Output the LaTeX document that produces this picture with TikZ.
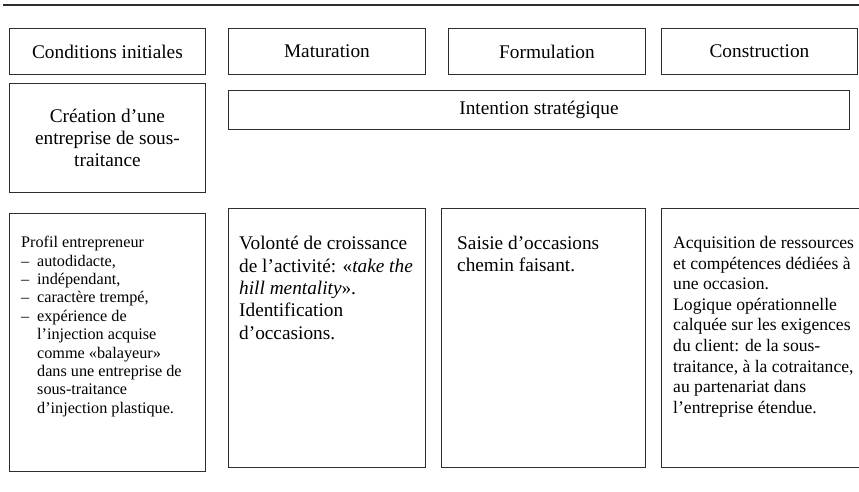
\documentclass[tikz,border=0pt]{standalone}
\usepackage{fontspec}
\setmainfont{Liberation Serif}
\usepackage{tikz}
\definecolor{framecolor}{RGB}{45,45,45}
\newcommand{\itemdash}{\makebox[16pt][l]{–}}
\newcommand{\itemgap}{\hspace*{16pt}}

\begin{document}
\begin{tikzpicture}[x=1pt, y=-1pt,
    phase/.style={draw=framecolor, line width=0.9pt, inner sep=0pt, anchor=north west, align=center, font=\fontsize{19.3}{22.4}\selectfont},
    cell/.style={draw=framecolor, line width=0.9pt, inner sep=0pt, anchor=north west},
    cellbig/.style={inner sep=0pt, anchor=north west, align=left, font=\fontsize{19.3}{22.4}\selectfont},
    cellmid/.style={inner sep=0pt, anchor=north west, align=left, font=\fontsize{17.6}{20.6}\selectfont},
    cellsmall/.style={inner sep=0pt, anchor=north west, align=left, font=\fontsize{16.2}{18.4}\selectfont}]
    \useasboundingbox (0,0) rectangle (859,491);

    % Top rule
    \draw[framecolor, line width=2.5pt] (3,5) -- (859,5);

    % Phases
    \node[phase, minimum width=196pt, minimum height=46pt] (cond) at (9,28) {Conditions initiales};
    \node[phase, minimum width=197pt, minimum height=46pt] (matur) at (228,28) {Maturation};
    \node[phase, minimum width=197pt, minimum height=46pt] (formul) at (448,28) {Formulation};
    \node[phase, minimum width=196pt, minimum height=46pt] (constr) at (661,28) {Construction};

    % Second row
    \node[phase, minimum width=196pt, minimum height=109pt] (creation) at (9,83) {Création d’une\\entreprise de sous-\\traitance};
    \node[phase, minimum width=621pt, minimum height=39pt] (intention) at (228,90) {Intention stratégique};

    % Description boxes
    \node[cell, minimum width=196pt, minimum height=258pt] (profilbox) at (9,213) {};
    \node[cell, minimum width=197pt, minimum height=259pt] (volontebox) at (228,208) {};
    \node[cell, minimum width=204pt, minimum height=259pt] (saisiebox) at (441,208) {};
    \node[cell, minimum width=210pt, minimum height=259pt] (acquisbox) at (661,208) {};

    % Description texts
    \node[cellsmall] (profil) at (21,236) {Profil entrepreneur\\
        \itemdash autodidacte,\\
        \itemdash indépendant,\\
        \itemdash caractère trempé,\\
        \itemdash expérience de\\
        \itemgap l’injection acquise\\
        \itemgap comme «balayeur»\\
        \itemgap dans une entreprise de\\
        \itemgap sous-traitance\\
        \itemgap d’injection plastique.};
    \node[cellbig] (volonte) at (239,236) {Volonté de croissance\\
        de l’activité: «\textit{take the}\\
        \textit{hill mentality}».\\
        Identification\\
        d’occasions.};
    \node[cellbig] (saisie) at (457,236) {Saisie d’occasions\\
        chemin faisant.};
    \node[cellmid] (acquis) at (673,236) {Acquisition de ressources\\
        et compétences dédiées à\\
        une occasion.\\
        Logique opérationnelle\\
        calquée sur les exigences\\
        du client: de la sous-\\
        traitance, à la cotraitance,\\
        au partenariat dans\\
        l’entreprise étendue.};
\end{tikzpicture}
\end{document}
